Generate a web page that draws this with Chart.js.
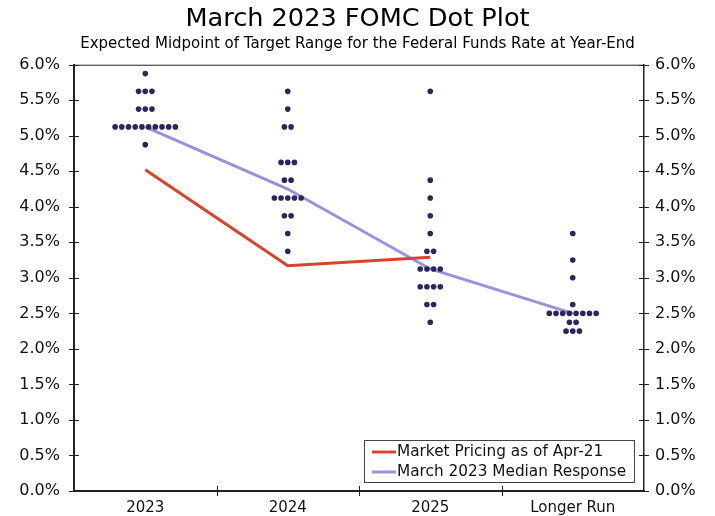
<!DOCTYPE html>
<html>
<head>
<meta charset="utf-8">
<script src="https://cdn.jsdelivr.net/npm/chart.js@4.4.1/dist/chart.umd.min.js"></script>
<style>
  body { margin: 0; background: #fff; }
  #wrap { width: 715px; height: 516px; }
</style>
</head>
<body>
<div id="wrap"><canvas id="dot-plot"></canvas></div>
<script>
const categories = ['2023', '2024', '2025', 'Longer Run'];
const medianRates = [5.125, 4.25, 3.125, 2.5];
const marketRates = [4.52, 3.17, 3.29];

// dot plot: rate levels and how many participants at each, per column
const dotRates = [
  [5.875, 5.625, 5.375, 5.125, 4.875],
  [5.625, 5.375, 5.125, 4.625, 4.375, 4.125, 3.875, 3.625, 3.375],
  [5.625, 4.375, 4.125, 3.875, 3.625, 3.375, 3.125, 2.875, 2.625, 2.375],
  [3.625, 3.25, 3.0, 2.625, 2.5, 2.375, 2.25]
];
const dotCounts = [
  [1, 3, 3, 10, 1],
  [1, 1, 2, 3, 2, 5, 2, 1, 1],
  [1, 1, 1, 1, 1, 2, 4, 4, 2, 1],
  [1, 1, 1, 1, 8, 2, 3]
];

const yTickValues = [0, 0.5, 1, 1.5, 2, 2.5, 3, 3.5, 4, 4.5, 5, 5.5, 6];

const FONT = 'DejaVu Sans, Verdana, sans-serif';
const DOT_STEP = 0.047; // horizontal gap between dots in one row (x units)

let dotPoints = [];
dotRates.forEach(function(rates, col) {
  rates.forEach(function(r, k) {
    let n = dotCounts[col][k];
    for (let i = 0; i < n; i++) {
      dotPoints.push({ x: col + (i - (n - 1) / 2) * DOT_STEP, y: r });
    }
  });
});

const axisTicks = {
  id: 'axisTicks',
  afterDraw(chart) {
    const ctx = chart.ctx;
    const a = chart.chartArea;
    ctx.save();
    ctx.strokeStyle = '#222';
    ctx.lineWidth = 1;
    // top frame line
    ctx.beginPath();
    ctx.moveTo(a.left, a.top + 0.5);
    ctx.lineTo(a.right, a.top + 0.5);
    ctx.stroke();
    ctx.beginPath();
    yTickValues.forEach(function(v) {
      let py = Math.round(chart.scales.y.getPixelForValue(v)) + 0.5;
      ctx.moveTo(a.left - 5, py); ctx.lineTo(a.left + 5, py);
      ctx.moveTo(a.right - 5, py); ctx.lineTo(a.right + 5, py);
    });
    for (let k = 0; k < categories.length - 1; k++) {
      let px = Math.round(chart.scales.x.getPixelForValue(k + 0.5)) + 0.5;
      ctx.moveTo(px, a.bottom - 5); ctx.lineTo(px, a.bottom + 5);
    }
    ctx.stroke();

    // legend box, bottom right inside the plot
    const items = chart.data.datasets.filter(d => d.type === 'line');
    const boxW = 270, boxH = 42;
    const bx = a.right - 10 - boxW, by = a.bottom - 9 - boxH;
    ctx.fillStyle = '#fff';
    ctx.fillRect(bx, by, boxW, boxH);
    ctx.strokeStyle = '#444';
    ctx.strokeRect(bx + 0.5, by + 0.5, boxW, boxH);
    ctx.font = '15.3px ' + FONT;
    ctx.textBaseline = 'middle';
    items.forEach(function(d, i) {
      let ly = by + 12 + i * 20;
      ctx.strokeStyle = d.borderColor;
      ctx.lineWidth = 3;
      ctx.beginPath();
      ctx.moveTo(bx + 8, ly); ctx.lineTo(bx + 32, ly);
      ctx.stroke();
      ctx.fillStyle = '#111';
      ctx.fillText(d.label, bx + 33, ly);
    });
    ctx.restore();
  }
};

new Chart(document.getElementById('dot-plot'), {
  type: 'scatter',
  data: {
    datasets: [
      {
        type: 'scatter',
        label: 'Participants',
        data: dotPoints,
        backgroundColor: '#2c245c',
        borderWidth: 0,
        pointRadius: 2.8,
        order: 0
      },
      {
        type: 'line',
        label: 'Market Pricing as of Apr-21',
        data: marketRates.map((v, i) => ({ x: i, y: v })),
        borderColor: '#d8432b',
        borderWidth: 3,
        pointRadius: 0,
        tension: 0,
        order: 1
      },
      {
        type: 'line',
        label: 'March 2023 Median Response',
        data: medianRates.map((v, i) => ({ x: i, y: v })),
        borderColor: '#9c8fdf',
        borderWidth: 3,
        pointRadius: 0,
        tension: 0,
        order: 2
      }
    ]
  },
  options: {
    responsive: true,
    maintainAspectRatio: false,
    animation: false,
    layout: { padding: { top: 0, right: 0, bottom: 0, left: 0 } },
    plugins: {
      legend: { display: false },
      tooltip: { enabled: false },
      title: {
        display: true,
        text: 'March 2023 FOMC Dot Plot',
        color: '#000',
        font: { family: FONT, size: 25.6, weight: 'normal' },
        padding: { top: 4, bottom: 0 }
      },
      subtitle: {
        display: true,
        text: 'Expected Midpoint of Target Range for the Federal Funds Rate at Year-End',
        color: '#000',
        font: { family: FONT, size: 15 },
        padding: { top: 0, bottom: 12 }
      }
    },
    scales: {
      x: {
        type: 'linear',
        min: -0.5,
        max: 3.5,
        afterBuildTicks: function(scale) {
          scale.ticks = categories.map((c, i) => ({ value: i }));
        },
        afterFit: function(scale) { scale.height = 25; },
        grid: { display: false, drawTicks: false },
        border: { display: true, color: '#222', width: 2 },
        ticks: {
          padding: 8,
          color: '#111',
          font: { family: FONT, size: 15 },
          callback: function(v) { return categories[Math.round(v)]; }
        }
      },
      y: {
        position: 'left',
        min: 0,
        max: 6,
        afterBuildTicks: function(scale) {
          scale.ticks = yTickValues.map(v => ({ value: v }));
        },
        afterFit: function(scale) { scale.width = 74; },
        grid: { display: false, drawTicks: false },
        border: { display: true, color: '#222', width: 2 },
        ticks: {
          padding: 14,
          color: '#111',
          font: { family: FONT, size: 16 },
          callback: v => v.toFixed(1) + '%'
        }
      },
      y2: {
        position: 'right',
        min: 0,
        max: 6,
        afterBuildTicks: function(scale) {
          scale.ticks = yTickValues.map(v => ({ value: v }));
        },
        afterFit: function(scale) { scale.width = 71; },
        grid: { display: false, drawTicks: false },
        border: { display: true, color: '#222', width: 1.5 },
        ticks: {
          padding: 11,
          color: '#111',
          font: { family: FONT, size: 16 },
          callback: v => v.toFixed(1) + '%'
        }
      }
    }
  },
  plugins: [axisTicks]
});
</script>
</body>
</html>
